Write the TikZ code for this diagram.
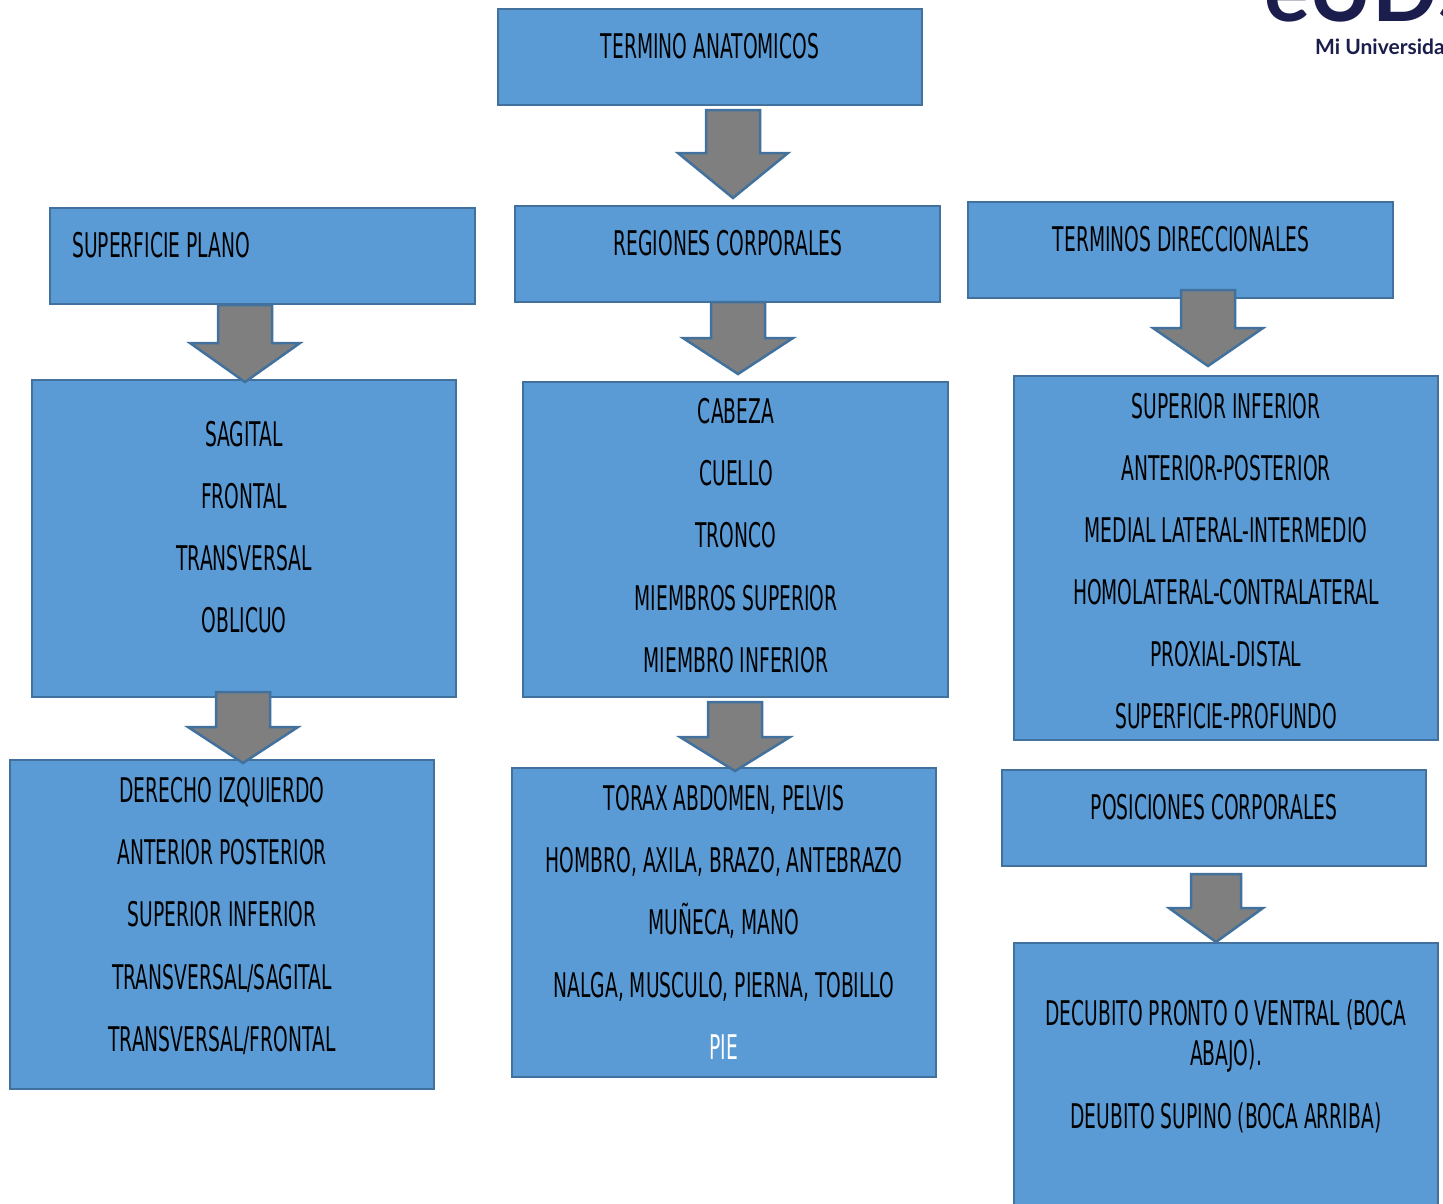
\documentclass[tikz,border=0pt]{standalone}
\usepackage{fontspec}
\newfontfamily\agency[FakeStretch=0.55]{DejaVu Sans}
\newfontfamily\logofont{Lato}
\definecolor{boxc}{HTML}{5B9BD5}
\definecolor{bordc}{HTML}{41719C}
\definecolor{arrc}{HTML}{7F7F7F}
\definecolor{navy}{HTML}{1B1E4D}
\newcommand\blockarr[7]{%
  \coordinate (#1) at (#2,#3);
  \draw[barr] (#2-#6,#3) -- (#2+#6,#3) -- (#2+#6,#4) -- (#2+#7,#4) -- (#2,#5)
     -- (#2-#7,#4) -- (#2-#6,#4) -- cycle;}
\tikzset{
  box/.style={rectangle, draw=bordc, fill=boxc, line width=2.5pt, inner sep=0pt},
  txt/.style={font=\agency\fontsize{34}{40}\selectfont, anchor=base, inner sep=0pt, text=black},
  barr/.style={draw=bordc, fill=arrc, line width=2.5pt, line join=miter}
}
\begin{document}
\begin{tikzpicture}[x=1pt,y=-1pt]
\useasboundingbox (0,0) rectangle (1443,1203);
\clip (0,0) rectangle (1443,1203);
\fill[white] (0,0) rectangle (1443,1203);
% logo
\node[font=\logofont\bfseries\fontsize{86}{86}\selectfont, text=navy, anchor=base west, inner sep=0pt, text depth=0pt] (logo) at (1264,21) {eUDS};
\node[font=\logofont\bfseries\fontsize{21}{21}\selectfont, text=navy, anchor=base west, inner sep=0pt, text height=15pt] (logotxt) at (1315,54) {Mi Universidad};
% boxes
\node[box, minimum width=424, minimum height=96] (tam) at (710,57) {};
\node[box, minimum width=425, minimum height=96] (sup) at (262.5,256) {};
\node[box, minimum width=425, minimum height=96] (reg) at (727.5,254) {};
\node[box, minimum width=425, minimum height=96] (dir) at (1180.5,250) {};
\node[box, minimum width=424, minimum height=317] (sag) at (244,538.5) {};
\node[box, minimum width=425, minimum height=315] (cab) at (735.5,539.5) {};
\node[box, minimum width=424, minimum height=364] (sin) at (1226,558) {};
\node[box, minimum width=424, minimum height=329] (der) at (222,924.5) {};
\node[box, minimum width=424, minimum height=309] (tor) at (724,922.5) {};
\node[box, minimum width=424, minimum height=96] (pos) at (1214,818) {};
\node[box, minimum width=424, minimum height=280] (dec) at (1226,1083) {};
% titles
\node[txt] (ttam) at (710,58.5) {TERMINO ANATOMICOS};
\node[txt, anchor=base west] (tsup) at (72,257.5) {SUPERFICIE PLANO};
\node[txt] (treg) at (728,255.5) {REGIONES CORPORALES};
\node[txt] (tdir) at (1181,251.5) {TERMINOS DIRECCIONALES};
\node[txt] (tpos) at (1214,819.5) {POSICIONES CORPORALES};
% lists
\foreach \t [count=\i] in {SAGITAL, FRONTAL, TRANSVERSAL, OBLICUO}
  \node[txt] (sag\i) at (244,446.5+62*\i-62) {\t};
\foreach \t [count=\i] in {CABEZA, CUELLO, TRONCO, MIEMBROS SUPERIOR, MIEMBRO INFERIOR}
  \node[txt] (cab\i) at (736,423.5+62.2*\i-62.2) {\t};
\foreach \t [count=\i] in {SUPERIOR INFERIOR, ANTERIOR-POSTERIOR, MEDIAL LATERAL-INTERMEDIO, HOMOLATERAL-CONTRALATERAL, PROXIAL-DISTAL, SUPERFICIE-PROFUNDO}
  \node[txt] (sin\i) at (1226,418.5+62*\i-62) {\t};
\foreach \t [count=\i] in {DERECHO IZQUIERDO, ANTERIOR POSTERIOR, SUPERIOR INFERIOR, TRANSVERSAL/SAGITAL, TRANSVERSAL/FRONTAL}
  \node[txt] (der\i) at (222,802.5+62.2*\i-62.2) {\t};
\foreach \t [count=\i] in {{TORAX ABDOMEN, PELVIS}, {HOMBRO, AXILA, BRAZO, ANTEBRAZO}, {MUÑECA, MANO}, {NALGA, MUSCULO, PIERNA, TOBILLO}}
  \node[txt] (tor\i) at (724,810.5+62.2*\i-62.2) {\t};
\node[txt, text=white] (tor5) at (724,1059.5) {PIE};
\node[txt] (dec1) at (1226,1025.5) {DECUBITO PRONTO O VENTRAL (BOCA};
\node[txt] (dec2) at (1226,1065.5) {ABAJO).};
\node[txt] (dec3) at (1226,1128.5) {DEUBITO SUPINO (BOCA ARRIBA)};
% block arrows
\blockarr{a1}{733}{110}{153}{198}{27}{55}
\blockarr{a2}{245}{305}{343}{382}{27}{55}
\blockarr{a3}{738}{302}{338}{374}{27}{55}
\blockarr{a4}{1208}{290}{328}{366}{27}{55}
\blockarr{a5}{243}{692}{727}{763}{27}{55}
\blockarr{a6}{735}{702}{737}{771}{27}{55}
\blockarr{a7}{1216}{874}{908}{942}{25}{47}
\end{tikzpicture}
\end{document}
